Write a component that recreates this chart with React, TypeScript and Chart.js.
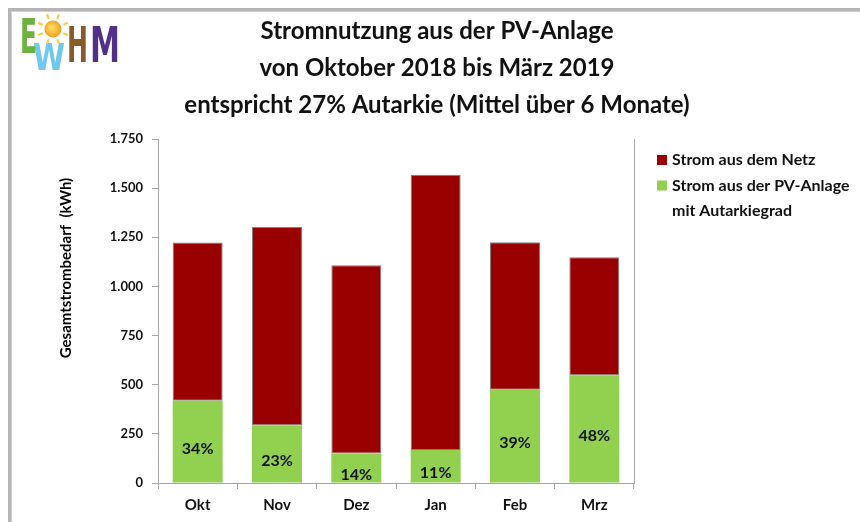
import React, { useEffect, useRef } from 'react';
import { Chart, registerables } from 'chart.js';

Chart.register(...registerables);

// ---- data ----
const categories = ['Okt', 'Nov', 'Dez', 'Jan', 'Feb', 'Mrz'];
const pvValues = [418, 294, 150, 168, 475, 548];
const netzValues = [806, 1008, 958, 1400, 750, 600];
const pvPercentLabels = ['34%', '23%', '14%', '11%', '39%', '48%'];
const yMin = 0;
const yMax = 1750;
const yStep = 250;
const titleLines = [
  'Stromnutzung aus der PV-Anlage',
  'von Oktober 2018 bis März 2019',
  'entspricht 27% Autarkie (Mittel über 6 Monate)',
];
const yAxisTitle = 'Gesamtstrombedarf  (kWh)';
const netzLabel = ['Strom aus dem Netz'];
const pvLabel = ['Strom aus der PV-Anlage', 'mit Autarkiegrad'];
const logoLetters = ['E', 'W', 'H', 'M'];

const FONT = 'Lato';
const AXIS_GRAY = '#a6a6a6';
const GREEN = '#92d050';
const RED = '#990000';

function fmtDE(v: number): string {
  return String(v).replace(/\B(?=(\d{3})+(?!\d))/g, '.');
}

function drawFit(ctx: CanvasRenderingContext2D, text: string, x: number, yBottom: number, w: number, h: number, color: string) {
  const size = h / 0.73;
  ctx.save();
  ctx.font = `bold ${size}px 'DejaVu Sans'`;
  const mw = ctx.measureText(text).width;
  ctx.translate(x, yBottom);
  ctx.scale(w / mw, 1);
  ctx.fillStyle = color;
  ctx.textBaseline = 'alphabetic';
  ctx.textAlign = 'left';
  ctx.fillText(text, 0, 0);
  ctx.restore();
}

const decorPlugin = {
  id: 'decor',
  beforeDraw(chart: any) {
    const ctx: CanvasRenderingContext2D = chart.ctx;
    ctx.save();
    // outer frame (top + left)
    ctx.fillStyle = '#b4b4b4';
    ctx.fillRect(8, 8, 852, 3);
    ctx.fillRect(8, 8, 3, 514);
    ctx.fillStyle = '#d0d0d0';
    ctx.fillRect(11, 11, 849, 1);
    ctx.fillRect(11, 11, 1, 511);

    // logo
    drawFit(ctx, logoLetters[1], 33, 70, 32, 27, '#6ec8f0');
    drawFit(ctx, logoLetters[0], 20, 53, 17, 35, '#6cb33e');
    // sun
    const cx = 53, cy = 29;
    ctx.strokeStyle = '#f8cf45';
    ctx.lineWidth = 2.2;
    for (let i = 0; i < 8; i++) {
      const a = (i / 8) * Math.PI * 2 + Math.PI / 8;
      ctx.beginPath();
      ctx.moveTo(cx + Math.cos(a) * 11, cy + Math.sin(a) * 11);
      ctx.lineTo(cx + Math.cos(a) * 16, cy + Math.sin(a) * 16);
      ctx.stroke();
    }
    const g = ctx.createRadialGradient(cx - 2, cy - 2, 1, cx, cy, 9);
    g.addColorStop(0, '#ffe060');
    g.addColorStop(1, '#f39a1c');
    ctx.fillStyle = g;
    ctx.beginPath();
    ctx.arc(cx, cy, 8.5, 0, Math.PI * 2);
    ctx.fill();
    drawFit(ctx, logoLetters[2], 67, 62, 21, 36, '#8b5a2b');
    drawFit(ctx, logoLetters[3], 90, 62, 30, 36, '#52308a');

    // y axis title
    ctx.translate(66, 268);
    ctx.rotate(-Math.PI / 2);
    ctx.fillStyle = '#000';
    ctx.font = `bold 15px ${FONT}`;
    ctx.textAlign = 'center';
    ctx.textBaseline = 'middle';
    ctx.fillText(yAxisTitle, 0, 0);
    ctx.restore();
  },
  afterDatasetsDraw(chart: any) {
    const ctx: CanvasRenderingContext2D = chart.ctx;
    const meta = chart.getDatasetMeta(0);
    ctx.save();
    ctx.fillStyle = '#111';
    ctx.font = `bold 16px ${FONT}`;
    ctx.textAlign = 'center';
    ctx.textBaseline = 'middle';
    meta.data.forEach((el: any, i: number) => {
      const mid = (el.y + el.base) / 2 + 7;
      ctx.fillText(pvPercentLabels[i], el.x, mid);
    });
    ctx.restore();
  },
  afterDraw(chart: any) {
    const ctx: CanvasRenderingContext2D = chart.ctx;
    ctx.save();
    ctx.font = `bold 16px ${FONT}`;
    ctx.textAlign = 'left';
    ctx.textBaseline = 'middle';
    const items = [
      { color: RED, lines: netzLabel },
      { color: GREEN, lines: pvLabel },
    ];
    let y = 160;
    items.forEach((it) => {
      ctx.fillStyle = it.color;
      ctx.fillRect(657, y - 5, 10, 10);
      ctx.fillStyle = '#111';
      it.lines.forEach((ln) => {
        ctx.fillText(ln, 672, y);
        y += 25.5;
      });
    });
    ctx.restore();
  },
};

export default function App() {
  const ref = useRef<HTMLCanvasElement | null>(null);
  useEffect(() => {
    if (!ref.current) return;
    const chart = new Chart(ref.current, {
      type: 'bar',
      data: {
        labels: categories,
        datasets: [
          {
            label: pvLabel.join(' '),
            data: pvValues,
            backgroundColor: GREEN,
            borderWidth: 0,
            barPercentage: 0.63,
            categoryPercentage: 1,
          },
          {
            label: netzLabel[0],
            data: netzValues,
            backgroundColor: RED,
            borderColor: '#7f7f7f',
            borderWidth: 1,
            borderSkipped: false,
            barPercentage: 0.63,
            categoryPercentage: 1,
          },
        ],
      },
      options: {
        responsive: false,
        animation: false,
        layout: { padding: { left: 14, top: 0, right: 0, bottom: 0 } },
        plugins: {
          legend: { display: false },
          tooltip: { enabled: false },
          title: {
            display: true,
            text: titleLines,
            color: '#111',
            font: { family: FONT, size: 24, weight: 'bold', lineHeight: 37 / 24 },
            padding: { top: 12.5, bottom: 15.5 },
          },
        },
        scales: {
          x: {
            stacked: true,
            grid: { offset: true, drawOnChartArea: false, drawTicks: true, tickLength: 6, color: AXIS_GRAY },
            border: { color: AXIS_GRAY, width: 1 },
            ticks: { color: '#111', font: { family: FONT, size: 15, weight: 'bold' }, padding: 7 },
            afterFit: (s: any) => { s.height = 39; },
          },
          y: {
            stacked: true,
            min: yMin,
            max: yMax,
            grid: { drawOnChartArea: false, drawTicks: true, tickLength: 6, color: AXIS_GRAY },
            border: { color: AXIS_GRAY, width: 1 },
            ticks: {
              stepSize: yStep,
              color: '#111',
              padding: 9,
              font: { family: FONT, size: 13, weight: 'bold' },
              callback: (v: any) => fmtDE(Number(v)),
            },
            afterFit: (s: any) => { s.width = 144; },
          },
          yRight: {
            position: 'right',
            display: true,
            grid: { drawOnChartArea: false, drawTicks: false },
            border: { color: AXIS_GRAY, width: 1 },
            ticks: { display: false },
            afterFit: (s: any) => { s.width = 226; },
          },
        },
      },
      plugins: [decorPlugin],
    } as any);
    return () => chart.destroy();
  }, []);
  return (
    <div style={{ position: 'absolute', left: 0, top: 0, width: 860, height: 522, background: '#fff' }}>
      <canvas ref={ref} width={860} height={522} style={{ display: 'block' }} />
    </div>
  );
}
